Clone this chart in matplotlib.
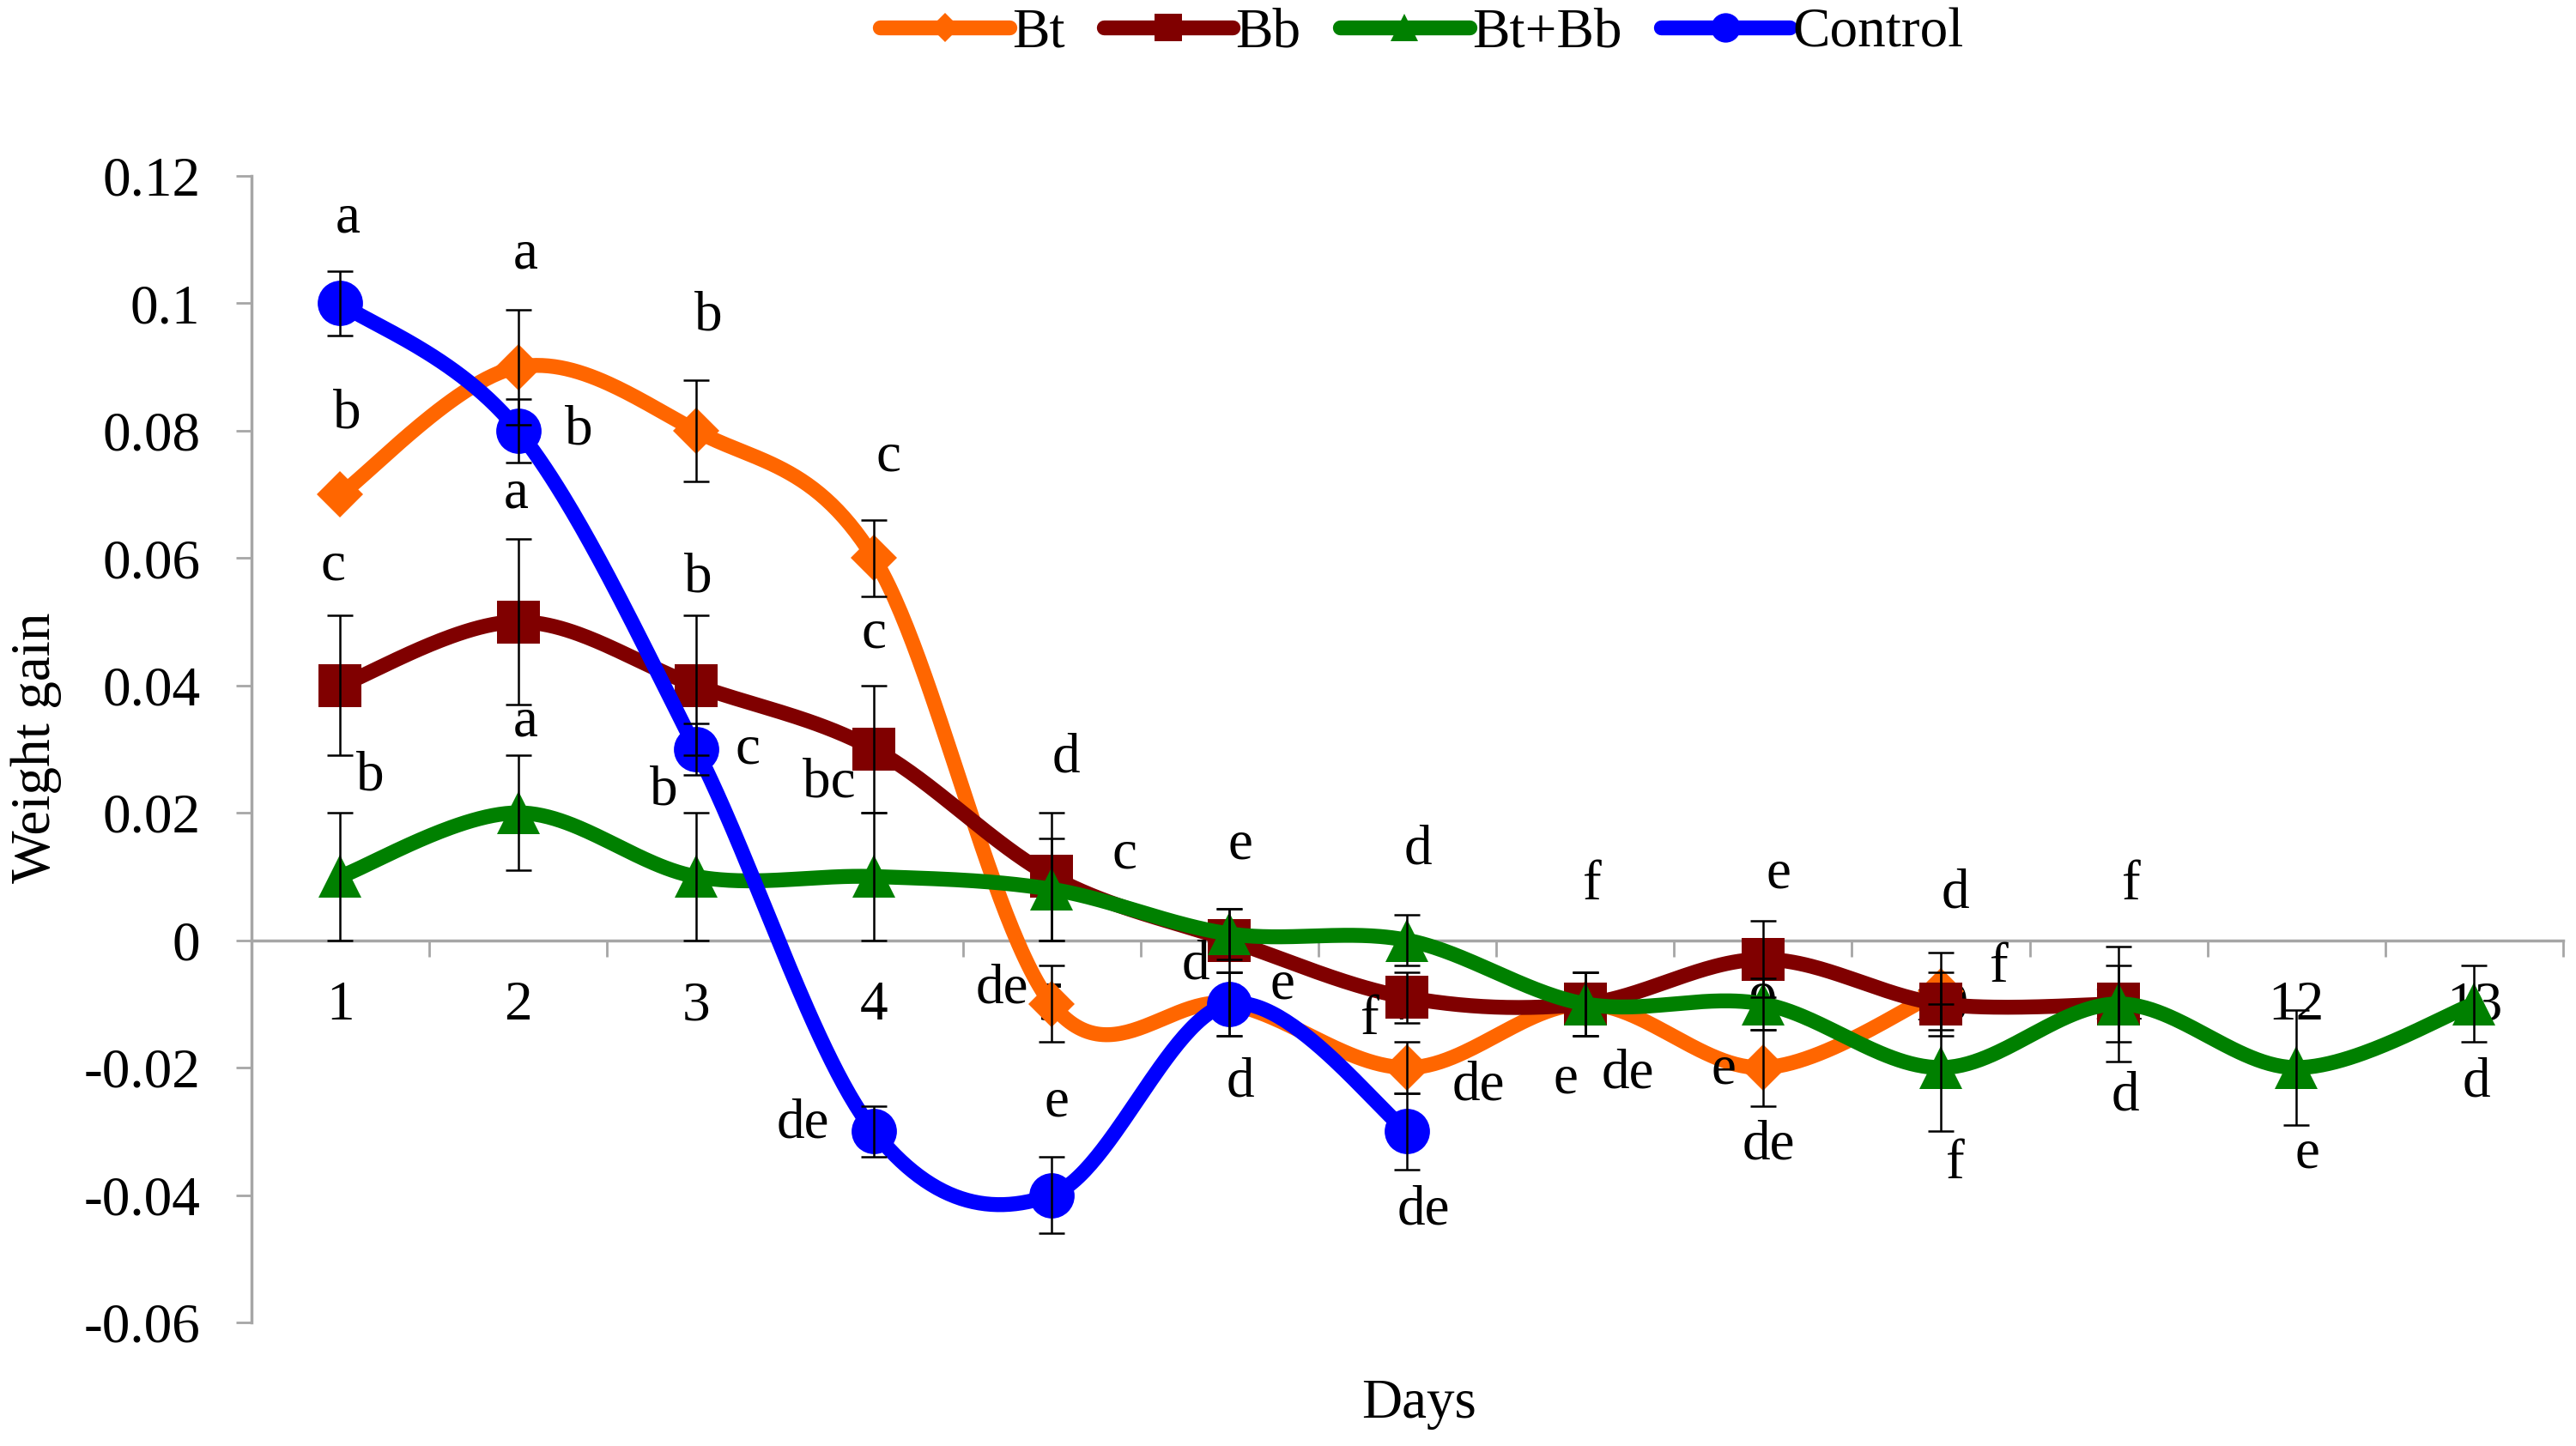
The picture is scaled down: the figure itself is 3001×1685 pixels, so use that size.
import numpy as np
import matplotlib.pyplot as plt
from matplotlib.lines import Line2D

plt.rcParams['font.family'] = ['Liberation Serif', 'DejaVu Serif']
plt.rcParams['axes.unicode_minus'] = False

# data
bt_days = [1, 2, 3, 4, 5, 6, 7, 8, 9, 10]
bt = [0.07, 0.09, 0.08, 0.06, -0.01, -0.01, -0.02, -0.01, -0.02, -0.008]
bt_err = [0.0, 0.009, 0.008, 0.006, 0.006, 0.005, 0.004, 0.005, 0.006, 0.006]

bb_days = [1, 2, 3, 4, 5, 6, 7, 8, 9, 10, 11]
bb = [0.04, 0.05, 0.04, 0.03, 0.01, 0.0, -0.009, -0.01, -0.003, -0.01, -0.01]
bb_err = [0.011, 0.013, 0.011, 0.01, 0.01, 0.005, 0.004, 0.005, 0.006, 0.005, 0.006]

mix_days = [1, 2, 3, 4, 5, 6, 7, 8, 9, 10, 11, 12, 13]
mix = [0.01, 0.02, 0.01, 0.01, 0.008, 0.001, 0.0, -0.01, -0.01, -0.02, -0.01, -0.02, -0.01]
mix_err = [0.01, 0.009, 0.01, 0.01, 0.008, 0.004, 0.004, 0.005, 0.004, 0.01, 0.009, 0.009, 0.006]

ctrl_days = [1, 2, 3, 4, 5, 6, 7]
ctrl = [0.1, 0.08, 0.03, -0.03, -0.04, -0.01, -0.03]
ctrl_err = [0.005, 0.005, 0.004, 0.004, 0.006, 0.005, 0.006]

# significance letters (day position, value position, text)
let_x = [1.04, 1.04, 0.96, 1.17, 2.04, 2.34, 1.99, 2.04, 3.07, 3.01, 2.82, 3.29,
         4.08, 4.0, 3.75, 3.6, 5.08, 5.41, 4.72, 5.03, 6.06, 5.81, 6.3, 6.06,
         7.06, 6.79, 7.4, 7.09, 8.04, 7.89, 8.24, 9.09, 8.78, 9.03, 10.08, 10.33,
         10.08, 11.07, 11.04, 12.06, 13.01]
let_y = [0.1133, 0.0826, 0.0587, 0.0257, 0.1076, 0.080, 0.070, 0.0342, 0.098, 0.0569,
         0.0234, 0.0299, 0.0759, 0.0481, 0.0247, -0.0288, 0.0286, 0.0134, -0.0077,
         -0.0255, 0.0149, -0.0039, -0.007, -0.0224, 0.0142, -0.0126, -0.0229, -0.0425,
         0.0085, -0.0219, -0.0211, 0.0103, -0.0203, -0.0322, 0.0072, -0.0044, -0.0353,
         0.0085, -0.0245, -0.0335, -0.0224]
let_txt = ['a', 'b', 'c', 'b', 'a', 'b', 'a', 'a', 'b', 'b', 'b', 'c',
           'c', 'c', 'bc', 'de', 'd', 'c', 'de', 'e', 'e', 'd', 'e', 'd',
           'd', 'f', 'de', 'de', 'f', 'e', 'de', 'e', 'e', 'de', 'd', 'f',
           'f', 'f', 'd', 'e', 'd']


def smooth(x, y, n=60):
    # Excel-like smoothed line (Catmull-Rom as cubic Bezier)
    x = np.asarray(x, float)
    y = np.asarray(y, float)
    p = np.column_stack([x, y])
    p = np.vstack([p[0], p, p[-1]])
    t = np.linspace(0, 1, n)[:, None]
    pts = []
    for i in range(1, len(p) - 2):
        p0, p1, p2, p3 = p[i - 1], p[i], p[i + 1], p[i + 2]
        c1 = p1 + (p2 - p0) / 6
        c2 = p2 - (p3 - p1) / 6
        seg = ((1 - t) ** 3 * p1 + 3 * (1 - t) ** 2 * t * c1
               + 3 * (1 - t) * t ** 2 * c2 + t ** 3 * p2)
        pts.append(seg if i == 1 else seg[1:])
    pts = np.vstack(pts)
    return pts[:, 0], pts[:, 1]


fig = plt.figure(figsize=(30.01, 16.85), dpi=100)
ax = fig.add_axes([0.0976, 0.0855, 0.8974, 0.7928])

series = [
    ('Bt', bt_days, bt, bt_err, '#FF6600', 'D', 27),
    ('Bb', bb_days, bb, bb_err, '#800000', 's', 36),
    ('Bt+Bb', mix_days, mix, mix_err, '#008000', '^', 36),
    ('Control', ctrl_days, ctrl, ctrl_err, '#0000FF', 'o', 38),
]

handles = []
for k, (name, xs, ys, es, col, mk, ms) in enumerate(series):
    sx, sy = smooth(xs, ys)
    z = 3 + k
    ax.plot(sx, sy, color=col, lw=12.5, solid_capstyle='round', zorder=z)
    ax.plot(xs, ys, linestyle='none', marker=mk, markersize=ms, color=col,
            markeredgewidth=0, zorder=z)
    keep = [i for i, e in enumerate(es) if e > 0]
    ax.errorbar([xs[i] for i in keep], [ys[i] for i in keep],
                yerr=[es[i] for i in keep], fmt='none', ecolor='black',
                elinewidth=1.8, capsize=11, capthick=1.8, zorder=10)
    handles.append(Line2D([], [], color=col, lw=12.5, solid_capstyle='round',
                          marker=mk, markersize=ms * 0.65, markeredgewidth=0))

for x, y, s in zip(let_x, let_y, let_txt):
    ax.text(x, y, s, ha='center', va='center', fontsize=47, zorder=12)

ax.set_xlim(0.5, 13.5)
ax.set_ylim(-0.06, 0.12)
ax.set_axisbelow(True)

for s in ['top', 'right']:
    ax.spines[s].set_visible(False)
ax.spines['bottom'].set_position(('data', 0))
ax.spines['bottom'].set_color('#a6a6a6')
ax.spines['left'].set_color('#a6a6a6')
ax.spines['bottom'].set_linewidth(2.5)
ax.spines['left'].set_linewidth(2.5)

ax.set_xticks(np.arange(0.5, 14, 1))
ax.set_xticklabels([])
ax.set_xticks(mix_days, minor=True)
ax.set_xticklabels([str(d) for d in mix_days], minor=True)
ax.tick_params(axis='x', which='major', direction='out', length=14, width=2,
               color='#a6a6a6')
ax.tick_params(axis='x', which='minor', length=0, pad=34, labelsize=47)

yt = np.round(np.arange(-0.06, 0.121, 0.02), 2)
ax.set_yticks(yt)
ax.set_yticklabels(['%g' % v for v in yt])
ax.tick_params(axis='y', direction='out', length=13, width=2, color='#a6a6a6',
               pad=30, labelsize=47)

fig.text(0.014, 0.483, 'Weight gain', rotation=90, ha='center', va='center',
         fontsize=47)
fig.text(0.551, 0.029, 'Days', ha='center', va='center', fontsize=47)

fig.legend(handles, [s[0] for s in series], loc='center', ncol=4,
           bbox_to_anchor=(0.552, 0.977), frameon=False, fontsize=47,
           handlelength=2.3, handletextpad=0.05, columnspacing=0.7)

fig.savefig('out.png', dpi=100)
